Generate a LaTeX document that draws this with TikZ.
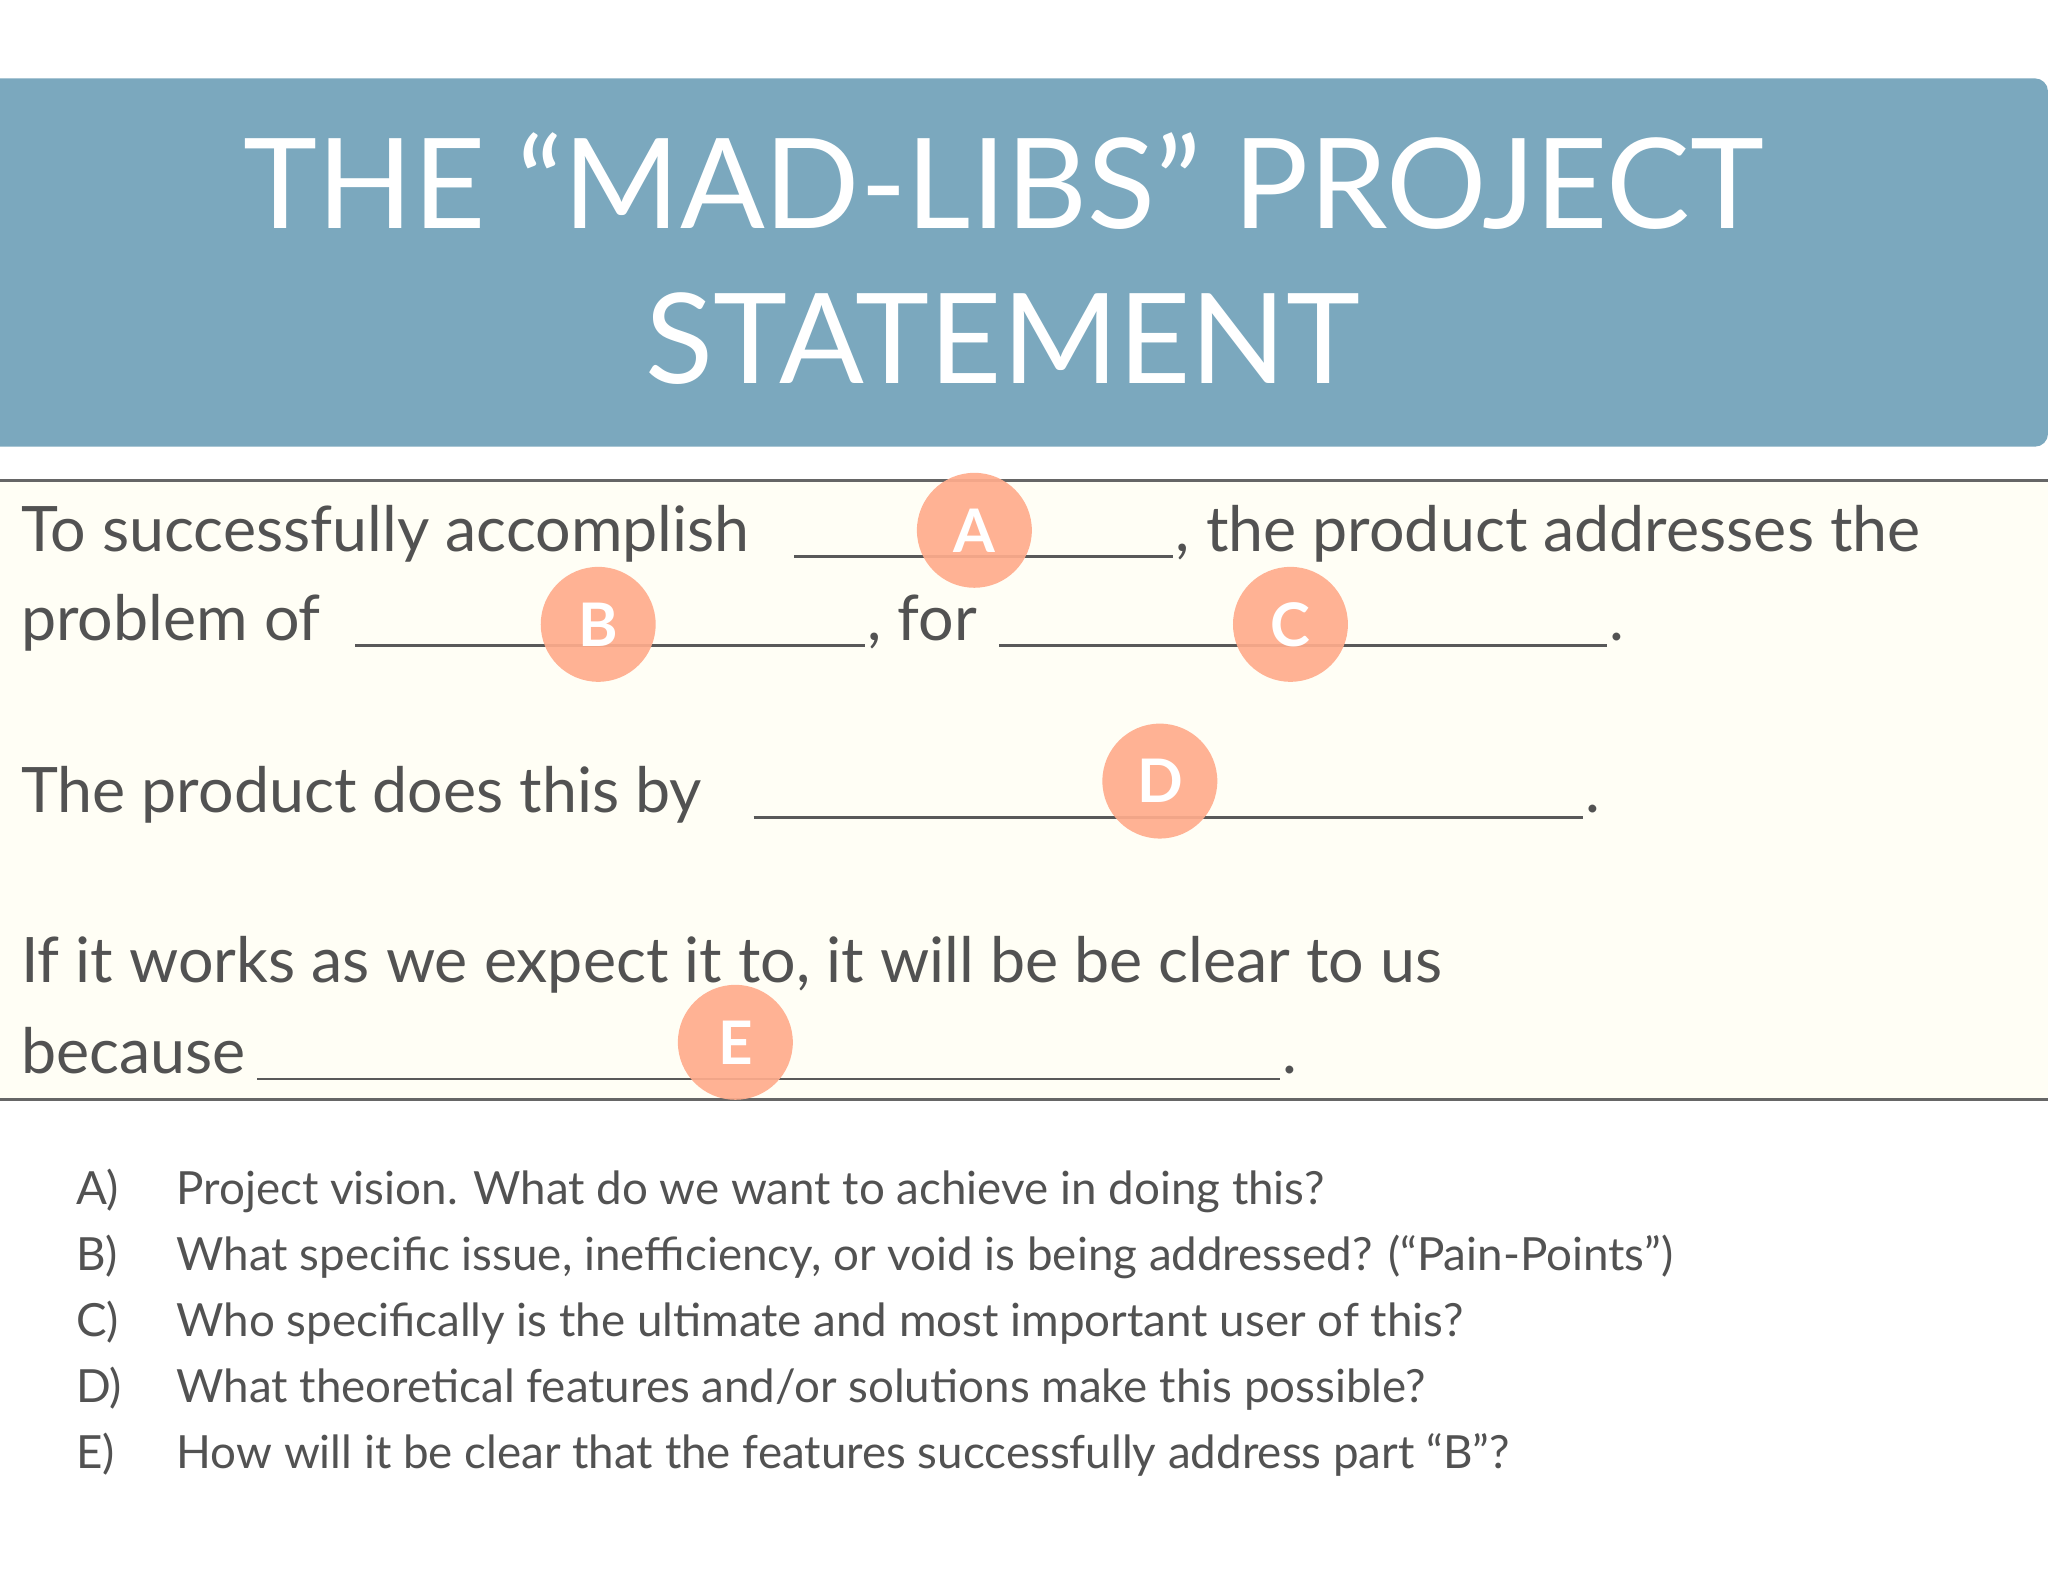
\documentclass[tikz,border=0pt]{standalone}
\usepackage{fontspec}
\setmainfont{Lato}
\begin{document}
\begin{tikzpicture}[x=1pt,y=-1pt,
  txt/.style={anchor=base west,inner sep=0pt,text=black!68,font=\fontsize{48}{50}\selectfont},
  lst/.style={anchor=base west,inner sep=0pt,text=black!68,font=\fontsize{35}{38}\selectfont},
  blank/.style={draw=black!65,line width=2pt},
  badge/.style={circle,fill=orange!55!red!45!white,fill opacity=0.92,text opacity=1,minimum size=88pt,inner sep=0pt,text=white,font=\bfseries\fontsize{46}{46}\selectfont}]
\useasboundingbox (0,0) rectangle (1568,1211);
\fill[white] (0,0) rectangle (1568,1211);
\definecolor{hdr}{HTML}{7BA8BE}
\fill[hdr,rounded corners=10pt] (-20,60) rectangle (1568,342);
\node[text=white,font=\fontsize{96}{118}\selectfont,align=center] (title) at (768,198) {THE \textquotedblleft MAD-LIBS\textquotedblright\ PROJECT\\STATEMENT};
\fill[yellow!4!white] (0,368) rectangle (1568,842);
\draw[black!60,line width=2pt] (0,368) -- (1568,368) (0,842) -- (1568,842);
% line 1
\node[txt] (t1) at (16,422) {To successfully accomplish};
\coordinate (a1) at (608,426); \coordinate (a2) at (898,426);
\draw[blank] (a1) -- (a2);
\node[txt] (t2) at (900,422) {, the product addresses the};
% line 2
\node[txt] (t3) at (16,490) {problem of};
\coordinate (b1) at (272,494); \coordinate (b2) at (662,494);
\draw[blank] (b1) -- (b2);
\node[txt] (t4) at (664,490) {, for};
\coordinate (c1) at (765,494); \coordinate (c2) at (1230,494);
\draw[blank] (c1) -- (c2);
\node[txt] (t5) at (1232,490) {.};
% line 3
\node[txt] (t6) at (16,622) {The product does this by};
\coordinate (d1) at (577,626); \coordinate (d2) at (1212,626);
\draw[blank] (d1) -- (d2);
\node[txt] (t7) at (1214,622) {.};
% line 4
\node[txt] (t8) at (16,752) {If it works as we expect it to, it will be be clear to us};
\node[txt] (t9) at (16,822) {because};
\coordinate (e1) at (197,826); \coordinate (e2) at (980,826);
\draw[blank] (e1) -- (e2);
\node[txt] (t10) at (982,822) {.};
% badges
\node[badge] (A) at (746,406) {A};
\node[badge] (B) at (458,478) {B};
\node[badge] (C) at (988,478) {C};
\node[badge] (D) at (888,598) {D};
\node[badge] (E) at (563,798) {E};
% list
\foreach \l/\t [count=\i from 0] in {A/{Project vision. What do we want to achieve in doing this?},
  B/{What specific issue, inefficiency, or void is being addressed? (\textquotedblleft Pain-Points\textquotedblright)},
  C/{Who specifically is the ultimate and most important user of this?},
  D/{What theoretical features and/or solutions make this possible?},
  E/{How will it be clear that the features successfully address part \textquotedblleft B\textquotedblright?}}{
  \node[lst] (l\l) at (58,922+50.5*\i) {\l)};
  \node[lst] (q\l) at (135,922+50.5*\i) {\t};
}
\end{tikzpicture}
\end{document}
